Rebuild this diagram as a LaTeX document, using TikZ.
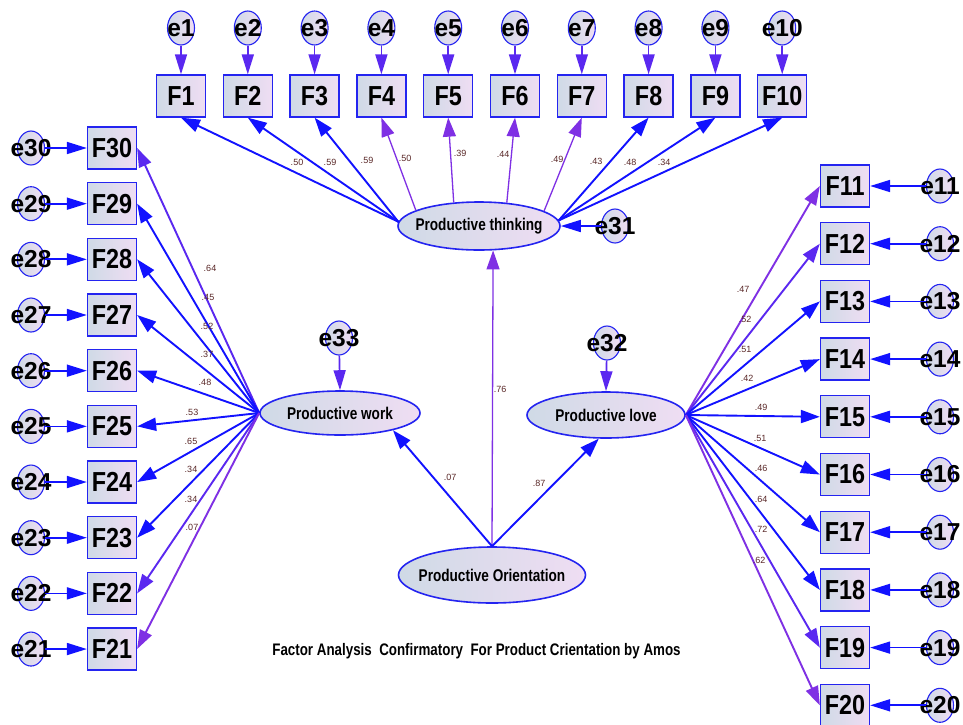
\documentclass[tikz,border=0pt]{standalone}
\usepackage{fontspec}
\setmainfont{Liberation Sans}
\newfontfamily\condf[FakeStretch=0.8]{Liberation Sans}
\newfontfamily\midf[FakeStretch=0.85]{Liberation Sans}
\usetikzlibrary{shapes.geometric,arrows.meta}
\definecolor{bord}{HTML}{2424F0}
\definecolor{lineb}{HTML}{1212FF}
\definecolor{linep}{HTML}{7F30E4}
\definecolor{linem}{HTML}{5A28F0}
\definecolor{fillL}{HTML}{CFDAE6}
\definecolor{fillR}{HTML}{EFDDF3}
\definecolor{lblc}{HTML}{5A2828}
\begin{document}
\begin{tikzpicture}[x=1pt,y=-1pt,
  obs/.style={rectangle, draw=bord, line width=1.3pt, left color=fillL, right color=fillR,
    minimum width=49pt, minimum height=42pt, inner sep=0pt,
    font=\midf\bfseries\fontsize{27.5}{27.5}\selectfont},
  errc/.style={ellipse, draw=bord, line width=1.1pt, left color=fillL, right color=fillR,
    minimum width=27pt, minimum height=34pt, inner sep=0pt},
  etxt/.style={font=\bfseries\fontsize{24.5}{24.5}\selectfont, inner sep=0pt},
  lat/.style={ellipse, draw=bord, line width=1.6pt, left color=fillL, right color=fillR, inner sep=0pt},
  lattxt/.style={font=\condf\bfseries\fontsize{17}{17}\selectfont, inner sep=0pt},
  lbl/.style={font=\fontsize{9}{9}\selectfont, text=lblc, inner sep=0pt},
  lnk/.style={draw=#1, line width=1.9pt, -{Triangle[length=19pt,width=13pt]}},
  lnk/.default=lineb,
  thin lnk/.style={draw=linep, line width=1.3pt, -{Triangle[length=19pt,width=13pt]}},
  earrow/.style={draw=#1, line width=1.7pt, -{Triangle[length=20pt,width=12pt]}},
  earrow/.default=linem
]
\path[use as bounding box, fill=white] (0,0) rectangle (963,724);

% latent variables
\node[lat, minimum width=162pt, minimum height=48pt, label={[lattxt]center:Productive thinking}] (pt) at (479,226) {};
\node[lat, minimum width=160pt, minimum height=44pt, label={[lattxt]center:Productive work}] (pw) at (340,413) {};
\node[lat, minimum width=158pt, minimum height=46pt, label={[lattxt]center:Productive love}] (pl) at (606,415) {};
\node[lat, minimum width=187pt, minimum height=56pt, label={[lattxt]center:Productive Orientation}] (po) at (492,575) {};

% error terms of latents
\node[errc, label={[etxt]center:e31}] (e31) at (615,226) {};
\node[errc, label={[etxt]center:e33}] (e33) at (339,338) {};
\node[errc, label={[etxt]center:e32}] (e32) at (607,343) {};
\draw[earrow=lineb] (e31) -- (pt.east);
\draw[earrow] (e33) -- (pw.north);
\draw[earrow] (e32) -- (pl.north);

% top row
\foreach \i in {1,...,10} {
  \pgfmathsetmacro\xx{181+(\i-1)*66.8}
  \node[obs] (F\i) at (\xx,96) {F\i};
  \node[errc, label={[etxt]center:e\i}] (e\i) at (\xx,28) {};
  \draw[earrow] (e\i) -- (F\i);
}
% left column
\foreach \i [count=\k from 0] in {30,29,...,21} {
  \pgfmathsetmacro\yy{148+\k*55.67}
  \node[obs] (F\i) at (112,\yy) {F\i};
  \node[errc, label={[etxt]center:e\i}] (e\i) at (31,\yy) {};
  \draw[earrow=lineb] (e\i) -- (F\i);
}
% right column
\foreach \i [count=\k from 0] in {11,...,20} {
  \pgfmathsetmacro\yy{186+\k*57.7}
  \node[obs] (F\i) at (845,\yy) {F\i};
  \node[errc, label={[etxt]center:e\i}] (e\i) at (940,\yy) {};
  \draw[earrow=lineb] (e\i) -- (F\i);
}

% productive thinking loadings
\foreach \i/\a/\c in {1/177/lineb,2/177/lineb,3/177/lineb,8/4/lineb,9/4/lineb,10/4/lineb}
  \draw[lnk=\c] (pt.\a) -- (F\i.south);
\foreach \i/\a in {4/166,5/137,6/40,7/13}
  \draw[thin lnk] (pt.\a) -- (F\i.south);

% productive work loadings
\foreach \i/\c in {30/linem,29/lineb,28/lineb,27/lineb,26/lineb,25/lineb,24/lineb,23/lineb,22/linem,21/linep}
  \draw[lnk=\c] (pw.west) -- (F\i.east);

% productive love loadings
\foreach \i/\c in {11/linep,12/linem,13/lineb,14/lineb,15/lineb,16/lineb,17/lineb,18/lineb,19/linem,20/linep}
  \draw[lnk=\c] (pl.east) -- (F\i.west);

% structural paths
\draw[thin lnk] (po.north) -- (pt.-60);
\draw[lnk] (po.north) -- (pw.-18);
\draw[lnk] (po.north) -- (pl.-107);

% labels: top
\node[lbl] (t1) at (297,162) {.50};
\node[lbl] (t2) at (330,162) {.59};
\node[lbl] (t3) at (367,160) {.59};
\node[lbl] (t4) at (405,158) {.50};
\node[lbl] (t5) at (460,153) {.39};
\node[lbl] (t6) at (503,154) {.44};
\node[lbl] (t7) at (557,159) {.49};
\node[lbl] (t8) at (596,161) {.43};
\node[lbl] (t9) at (630,162) {.48};
\node[lbl] (t10) at (664,162) {.34};
% labels: left
\node[lbl] (l30) at (210,268) {.64};
\node[lbl] (l29) at (208,297) {.45};
\node[lbl] (l28) at (207,326) {.52};
\node[lbl] (l27) at (207,354) {.37};
\node[lbl] (l26) at (205,382) {.48};
\node[lbl] (l25) at (192,412) {.53};
\node[lbl] (l24) at (191,441) {.65};
\node[lbl] (l23) at (191,469) {.34};
\node[lbl] (l22) at (191,499) {.34};
\node[lbl] (l21) at (192,527) {.07};
% labels: right
\node[lbl] (r11) at (743,289) {.47};
\node[lbl] (r12) at (745,319) {.52};
\node[lbl] (r13) at (745,349) {.51};
\node[lbl] (r14) at (747,378) {.42};
\node[lbl] (r15) at (761,407) {.49};
\node[lbl] (r16) at (760,438) {.51};
\node[lbl] (r17) at (761,468) {.46};
\node[lbl] (r18) at (761,499) {.64};
\node[lbl] (r19) at (761,529) {.72};
\node[lbl] (r20) at (759,560) {.62};
% labels: structural
\node[lbl] (s1) at (500,389) {.76};
\node[lbl] (s2) at (450,477) {.07};
\node[lbl] (s3) at (539,483) {.87};

% caption
\node[font=\condf\bfseries\fontsize{16.7}{16.7}\selectfont, inner sep=0pt] (cap) at (476.5,651)
  {Factor Analysis\ \ Confirmatory\ \ For Product Crientation by Amos};
\end{tikzpicture}
\end{document}
